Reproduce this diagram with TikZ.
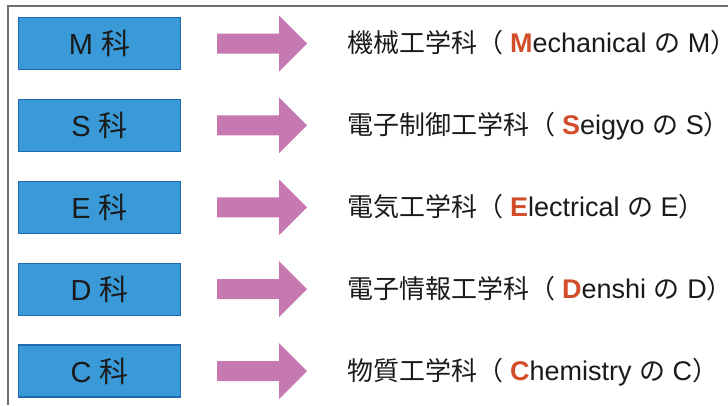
\documentclass[tikz,border=0pt]{standalone}
\usepackage{fontspec}
\setmainfont{Liberation Sans}
\newfontfamily\cjk{Noto Sans CJK JP}
\definecolor{boxfill}{HTML}{3A9AD8}
\definecolor{boxline}{HTML}{1F6AB3}
\definecolor{arrowpink}{HTML}{C678B0}
\definecolor{initred}{HTML}{D24E2A}
\definecolor{framegray}{HTML}{707070}
\definecolor{txt}{HTML}{1A1A1A}
\tikzset{
  deptbox/.style={draw=boxline, line width=1.4pt, fill=boxfill, minimum width=162pt, minimum height=52pt, inner sep=0pt},
  depttext/.style={anchor=base, inner sep=0pt, font=\fontsize{29}{29}\selectfont, text=txt},
  bigarrow/.style={fill=arrowpink, draw=none},
  labeltext/.style={anchor=base west, inner sep=0pt, font=\fontsize{27}{27}\selectfont, text=txt},
  frameline/.style={draw=framegray, line width=1.2pt}
}
\newcommand{\ini}[1]{{\color{initred}\bfseries #1}}
\newcommand{\jp}[1]{{\cjk\fontsize{26}{26}\selectfont #1}}
\newcommand{\closep}{\makebox[8pt][l]{\jp{）}}}
\begin{document}
\begin{tikzpicture}[x=1pt,y=-1pt]
\useasboundingbox (0,0) rectangle (728,405);
\coordinate (frameTR) at (728,6);
\coordinate (frameTL) at (8,6);
\coordinate (frameBL) at (8,405);
\draw[frameline] (frameTR) -- (frameTL) -- (frameBL);
\foreach \i/\abbr/\lab in {
  0/M/{\jp{機械工学科（}\hspace{7pt}\ini{M}echanical \jp{の} M\closep},
  1/S/{\jp{電子制御工学科（}\hspace{7pt}\ini{S}eigyo \jp{の} S\closep},
  2/E/{\jp{電気工学科（}\hspace{7pt}\ini{E}lectrical \jp{の} E\closep},
  3/D/{\jp{電子情報工学科（}\hspace{7pt}\ini{D}enshi \jp{の} D\closep},
  4/C/{\jp{物質工学科（}\hspace{7pt}\ini{C}hemistry \jp{の} C\closep}}
{
  \pgfmathsetmacro{\cy}{43.5+81.9*\i}
  \node[deptbox] (box\i) at (99.5,\cy) {};
  \node[depttext] (boxlab\i) at (99.5,\cy+11) {\abbr\ {\cjk 科}};
  \fill[bigarrow] (217,\cy-10) -- (279,\cy-10) -- (279,\cy-28) -- (307,\cy) -- (279,\cy+28) -- (279,\cy+10) -- (217,\cy+10) -- cycle;
  \node[labeltext] (lab\i) at (347,\cy+9) {\lab};
}
\end{tikzpicture}
\end{document}
